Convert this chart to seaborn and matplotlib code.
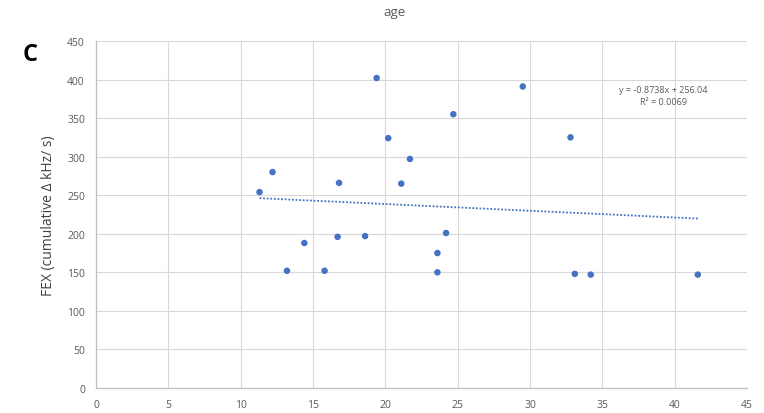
import numpy as np
import pandas as pd
import matplotlib
matplotlib.use("Agg")
import matplotlib.pyplot as plt
import seaborn as sns

age = [11.3, 12.2, 13.2, 14.4, 15.8, 16.7, 16.8, 18.6, 19.4, 20.2, 21.1,
       21.7, 23.6, 23.6, 24.2, 24.7, 29.5, 32.8, 33.1, 34.2, 41.6]
fex = [254, 280, 152, 188, 152, 196, 266, 197, 402, 324, 265,
       297, 175, 150, 201, 355, 391, 325, 148, 147, 147]
slope = -0.8738
intercept = 256.04
r2 = 0.0069
x_ticks = list(range(0, 50, 5))
y_ticks = list(range(0, 500, 50))

df = pd.DataFrame({"age": age, "fex": fex})

sns.set_style("white")
plt.rcParams['font.family'] = ['Open Sans', 'DejaVu Sans']

fig = plt.figure(figsize=(7.64, 4.14), dpi=100)
ax = fig.add_axes([0.1257, 0.0604, 0.852, 0.8382])

grid_c = "#d9d9d9"
for v in x_ticks:
    ax.axvline(v, color=grid_c, lw=0.8, zorder=0)
for v in y_ticks:
    ax.axhline(v, color=grid_c, lw=0.8, zorder=0)

xs = np.array([min(age), max(age)])
trend = pd.DataFrame({"age": xs, "fex": slope * xs + intercept})
sns.lineplot(data=trend, x="age", y="fex", ax=ax, color="#4472C4",
             lw=1.3, linestyle=(0, (1, 1)), zorder=2)
sns.scatterplot(data=df, x="age", y="fex", ax=ax, color="#4472C4",
                s=22, edgecolor="none", zorder=3)

ax.set_xlim(0, 45)
ax.set_ylim(0, 450)
ax.set_xticks(x_ticks)
ax.set_yticks(y_ticks)
ax.tick_params(axis="both", length=0, labelsize=7.5, colors="#595959", pad=8)
for s in ["top", "right"]:
    ax.spines[s].set_visible(False)
for s in ["left", "bottom"]:
    ax.spines[s].set_color("#bfbfbf")
    ax.spines[s].set_linewidth(0.9)
ax.set_xlabel("")
ax.set_ylabel("FEX (cumulative Δ kHz/ s)", fontsize=10, color="#404040", labelpad=8)

fig.text(0.517, 0.97, "age", ha="center", va="center", fontsize=9.5, color="#595959")
fig.text(0.039, 0.868, "C", ha="center", va="center", fontsize=17,
         fontweight="bold", color="black")
ax.text(39.2, 387, f"y = {slope}x + {intercept}", ha="center", va="center",
        fontsize=6.5, color="#595959")
ax.text(39.2, 372, f"R² = {r2}", ha="center", va="center",
        fontsize=6.5, color="#595959")

fig.savefig("out.png", dpi=100)
